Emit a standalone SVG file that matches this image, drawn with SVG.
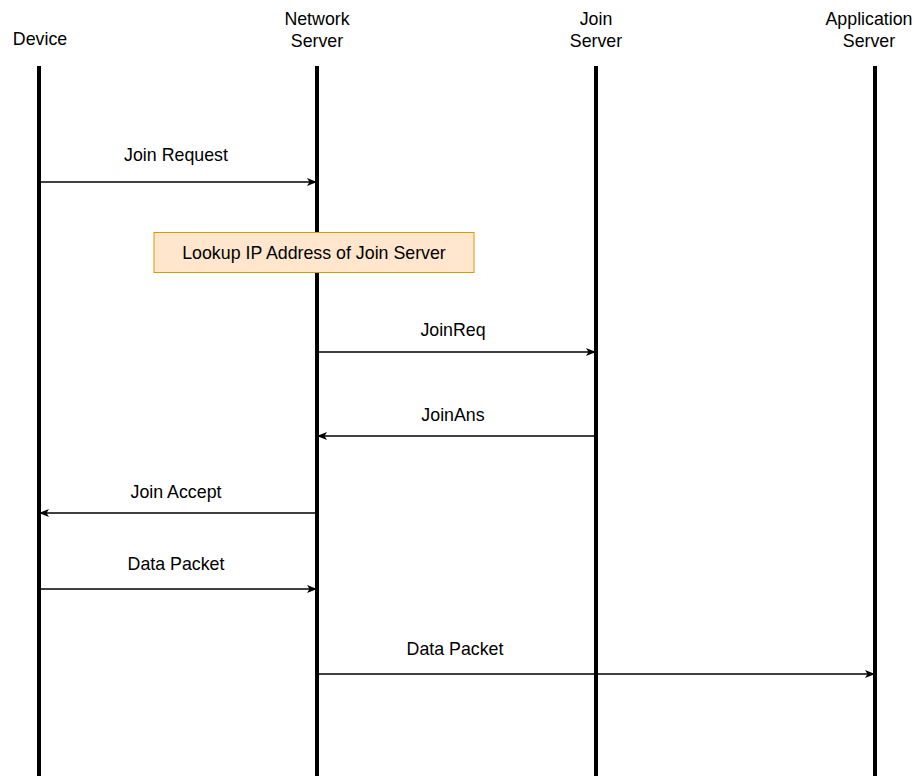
<svg xmlns="http://www.w3.org/2000/svg" width="918" height="776" viewBox="0 0 918 776">
  <style>
    .lifeline { stroke: #000; stroke-width: 4; fill: none; }
    .msg { stroke: #000; stroke-width: 1.3; fill: none; marker-end: url(#arrow); }
    .label { font-family: "Liberation Sans", Arial, sans-serif; font-size: 17.8px; fill: #000; text-anchor: middle; }
    .note { fill: #ffe6cc; stroke: #d79b00; stroke-width: 1; }
  </style>
  <defs>
    <marker id="arrow" viewBox="0 0 10 10" refX="9" refY="5" markerWidth="10" markerHeight="10" markerUnits="userSpaceOnUse" orient="auto">
      <path d="M0,1 L10,5 L0,9 L2.5,5 Z" fill="#000"/>
    </marker>
  </defs>
  <rect width="918" height="776" fill="#fff"/>

  <!-- participants -->
  <g id="device">
    <text class="label" x="40" y="45">Device</text>
    <line class="lifeline" x1="39" y1="66" x2="39" y2="776"/>
  </g>
  <g id="network-server">
    <text class="label" x="317" y="25">Network</text>
    <text class="label" x="317" y="47">Server</text>
    <line class="lifeline" x1="317" y1="66" x2="317" y2="776"/>
  </g>
  <g id="join-server">
    <text class="label" x="596" y="25">Join</text>
    <text class="label" x="596" y="47">Server</text>
    <line class="lifeline" x1="596" y1="66" x2="596" y2="776"/>
  </g>
  <g id="application-server">
    <text class="label" x="869" y="25">Application</text>
    <text class="label" x="869" y="47">Server</text>
    <line class="lifeline" x1="875" y1="66" x2="875" y2="776"/>
  </g>

  <!-- note over network server -->
  <g id="lookup-note">
    <rect class="note" x="154" y="232.5" width="320" height="40"/>
    <text class="label" x="314" y="259">Lookup IP Address of Join Server</text>
  </g>

  <!-- messages -->
  <g id="messages">
    <line class="msg" x1="41" y1="182" x2="316" y2="182"/>
    <text class="label" x="176" y="161">Join Request</text>

    <line class="msg" x1="319" y1="352" x2="595" y2="352"/>
    <text class="label" x="453" y="336">JoinReq</text>

    <line class="msg" x1="594" y1="436" x2="318" y2="436"/>
    <text class="label" x="453" y="421">JoinAns</text>

    <line class="msg" x1="315" y1="513" x2="40" y2="513"/>
    <text class="label" x="176" y="498">Join Accept</text>

    <line class="msg" x1="41" y1="589" x2="316" y2="589"/>
    <text class="label" x="176" y="570">Data Packet</text>

    <line class="msg" x1="319" y1="674" x2="874" y2="674"/>
    <text class="label" x="455" y="655">Data Packet</text>
  </g>
</svg>
